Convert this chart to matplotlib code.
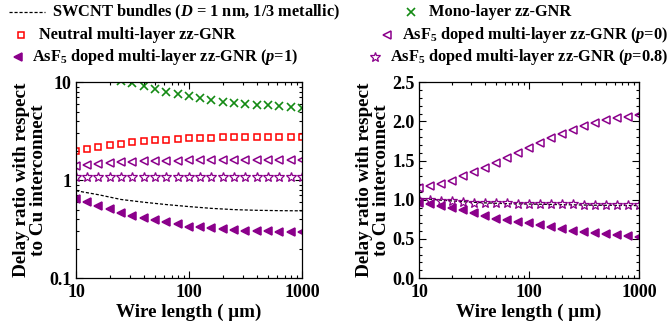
import matplotlib
matplotlib.use("Agg")
import matplotlib.pyplot as plt
from matplotlib.lines import Line2D
from matplotlib.ticker import FixedLocator, FixedFormatter, MultipleLocator, LogLocator, NullFormatter

plt.rcParams['font.family'] = ['Liberation Serif', 'DejaVu Serif']
plt.rcParams['font.weight'] = 'bold'
plt.rcParams['mathtext.fontset'] = 'custom'
plt.rcParams['mathtext.rm'] = 'Liberation Serif:bold'
plt.rcParams['mathtext.bf'] = 'Liberation Serif:bold'
plt.rcParams['mathtext.it'] = 'Liberation Serif:italic:bold'

# ---- data ----
wire_len = [10, 12.6, 15.8, 20, 25, 31.6, 39.8, 50, 63.1, 79.4, 100,
            126, 158, 200, 251, 316, 398, 501, 631, 794, 1000]

# left panel (log scale)
mono_gnr = [14.0, 13.0, 12.0, 11.2, 10.4, 9.76, 9.2, 8.6, 8.0, 7.6, 7.2,
            6.9, 6.6, 6.3, 6.1, 6.0, 5.85, 5.8, 5.7, 5.6, 5.5]
neutral_gnr = [2.0, 2.08, 2.18, 2.27, 2.36, 2.47, 2.51, 2.55, 2.59, 2.63, 2.67,
               2.69, 2.72, 2.74, 2.74, 2.76, 2.76, 2.76, 2.78, 2.78, 2.78]
asf5_p0_left = [1.38, 1.43, 1.47, 1.50, 1.52, 1.545, 1.56, 1.57, 1.58, 1.58, 1.59,
                1.59, 1.59, 1.61, 1.61, 1.61, 1.61, 1.61, 1.61, 1.61, 1.61]
asf5_p08_left = [1.07, 1.07, 1.07, 1.07, 1.07, 1.07, 1.07, 1.07, 1.07, 1.07, 1.07,
                 1.07, 1.07, 1.07, 1.07, 1.07, 1.07, 1.07, 1.07, 1.07, 1.07]
asf5_p1_left = [0.643, 0.60, 0.55, 0.504, 0.462, 0.434, 0.411, 0.389, 0.371, 0.355, 0.335,
                0.33, 0.323, 0.315, 0.31, 0.305, 0.303, 0.30, 0.298, 0.296, 0.294]
swcnt_x = [10, 15.8, 25, 39.8, 63.1, 100, 158, 251, 398, 631, 1000]
swcnt_left = [0.78, 0.71, 0.635, 0.595, 0.563, 0.537, 0.515, 0.50, 0.492, 0.488, 0.486]

# right panel (linear scale)
asf5_p0_right = [1.15, 1.17, 1.20, 1.245, 1.30, 1.352, 1.41, 1.475, 1.534, 1.60, 1.666,
                 1.73, 1.786, 1.845, 1.896, 1.943, 1.985, 2.015, 2.04, 2.06, 2.083]
asf5_p08_right = [1.0, 1.0, 0.99, 0.985, 0.973, 0.96, 0.957, 0.955, 0.953, 0.95, 0.95,
                  0.946, 0.944, 0.942, 0.94, 0.938, 0.936, 0.934, 0.933, 0.932, 0.931]
asf5_p1_right = [0.957, 0.944, 0.922, 0.90, 0.867, 0.829, 0.786, 0.753, 0.744, 0.722, 0.70,
                 0.68, 0.65, 0.625, 0.607, 0.587, 0.574, 0.561, 0.548, 0.536, 0.523]
swcnt_right = [1.02, 0.995, 0.975, 0.96, 0.95, 0.945, 0.94, 0.935, 0.93, 0.928, 0.925]

x_ticks = [10, 100, 1000]
x_ticklabels = ['10', '100', '1000']
left_yticks = [0.1, 1, 10]
left_yticklabels = ['0.1', '1', '10']
right_yticks = [0.0, 0.5, 1.0, 1.5, 2.0, 2.5]
right_yticklabels = ['0.0', '0.5', '1.0', '1.5', '2.0', '2.5']

xlabel = 'Wire length ( \u03bcm)'
ylabel = 'Delay ratio with respect\nto Cu interconnect'

GREEN = '#138a13'
RED = '#ff0000'
PURPLE = '#8b008b'

fig = plt.figure(figsize=(6.71, 3.31), dpi=100)
axL = fig.add_axes([0.1133, 0.160, 0.3368, 0.5914])
axR = fig.add_axes([0.6244, 0.160, 0.3279, 0.5914])

mew = 1.1
style_mono = dict(ls='none', marker='x', color=GREEN, ms=6, mew=1.2)
style_neu = dict(ls='none', marker='s', mfc='none', mec=RED, ms=5, mew=mew)
style_p0 = dict(ls='none', marker='<', mfc='none', mec=PURPLE, ms=6, mew=mew)
style_p08 = dict(ls='none', marker='*', mfc='none', mec=PURPLE, ms=7, mew=0.9)
style_p1 = dict(ls='none', marker='<', mfc=PURPLE, mec=PURPLE, ms=6, mew=mew)
style_sw = dict(ls=(0, (2.5, 1.5)), color='black', lw=0.9)

axL.plot(swcnt_x, swcnt_left, **style_sw)
axL.plot(wire_len, mono_gnr, **style_mono)
axL.plot(wire_len, neutral_gnr, **style_neu)
axL.plot(wire_len, asf5_p0_left, **style_p0)
axL.plot(wire_len, asf5_p08_left, **style_p08)
axL.plot(wire_len, asf5_p1_left, **style_p1)

axR.plot(swcnt_x, swcnt_right, **style_sw)
axR.plot(wire_len, asf5_p0_right, **style_p0)
axR.plot(wire_len, asf5_p08_right, **style_p08)
axR.plot(wire_len, asf5_p1_right, **style_p1)

for ax in (axL, axR):
    ax.set_xscale('log')
    ax.set_xlim(10, 1000)
    ax.xaxis.set_major_locator(FixedLocator(x_ticks))
    ax.xaxis.set_major_formatter(FixedFormatter(x_ticklabels))
    ax.xaxis.set_minor_locator(LogLocator(base=10, subs=range(2, 10)))
    ax.xaxis.set_minor_formatter(NullFormatter())
    ax.tick_params(which='both', direction='in', top=True, right=True,
                   labelsize=13, width=0.8)
    ax.tick_params(which='major', length=5)
    ax.tick_params(which='minor', length=2.5)
    ax.tick_params(axis='x', which='major', pad=4)
    ax.tick_params(axis='y', which='major', pad=3)
    ax.set_xlabel(xlabel, fontsize=13.8, fontweight='bold', labelpad=2)
    ax.set_ylabel(ylabel, fontsize=13.8, fontweight='bold', labelpad=2, linespacing=1.0)
    for s in ax.spines.values():
        s.set_linewidth(0.9)

axL.set_yscale('log')
axL.set_ylim(0.1, 10)
axL.yaxis.set_major_locator(FixedLocator(left_yticks))
axL.yaxis.set_major_formatter(FixedFormatter(left_yticklabels))
axL.yaxis.set_minor_locator(LogLocator(base=10, subs=range(2, 10)))
axL.yaxis.set_minor_formatter(NullFormatter())

axR.set_ylim(0, 2.5)
axR.yaxis.set_major_locator(FixedLocator(right_yticks))
axR.yaxis.set_major_formatter(FixedFormatter(right_yticklabels))
axR.yaxis.set_minor_locator(MultipleLocator(0.1))

# ---- legend (manual, figure pixel coords) ----
W, H = 671.0, 331.0
def fx(px):
    return px / W
def fy(py):
    return 1 - py / H

leg_fs = 11.8
entries = [
    # (marker x0, marker x1 or None, y, style, text x, align, text)
    (9, 45, 12, style_sw, 52, 'left', 'SWCNT bundles ($D$ = 1 nm, 1/3 metallic)'),
    (411, None, 12, style_mono, 429, 'left', 'Mono-layer zz-GNR'),
    (21, None, 35, style_neu, 39, 'left', 'Neutral multi-layer zz-GNR'),
    (None, None, 35, style_p0, 668, 'right', 'AsF$_5$ doped multi-layer zz-GNR ($p$=0)'),
    (18, None, 57, style_p1, 32, 'left', 'AsF$_5$ doped multi-layer zz-GNR ($p$=1)'),
    (None, None, 57, style_p08, 668, 'right', 'AsF$_5$ doped multi-layer zz-GNR ($p$=0.8)'),
]
fig.canvas.draw()
renderer = fig.canvas.get_renderer()
for x0, x1, y, st, tx, ha, txt in entries:
    t = fig.text(fx(tx), fy(y), txt, fontsize=leg_fs, fontweight='bold',
                 ha=ha, va='center')
    if x0 is None:
        bb = t.get_window_extent(renderer=renderer)
        x0 = bb.x0 - 15
    if x1 is None:
        ln = Line2D([fx(x0)], [fy(y)], transform=fig.transFigure, **st)
    else:
        ln = Line2D([fx(x0), fx(x1)], [fy(y), fy(y)], transform=fig.transFigure, **st)
    fig.add_artist(ln)

fig.savefig('out.png', dpi=100)
